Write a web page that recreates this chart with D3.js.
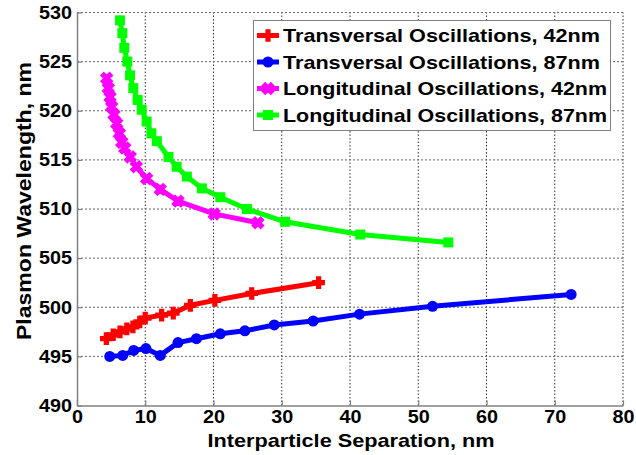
<!DOCTYPE html>
<html>
<head>
<meta charset="utf-8">
<script src="https://cdn.jsdelivr.net/npm/d3@7"></script>
<style>
  body { margin: 0; background: #fff; }
  svg { display: block; font-family: "Liberation Sans", Arial, sans-serif; font-weight: bold; }
</style>
</head>
<body>
<div id="chart"></div>
<script>
// values
const trans42X = [4.3, 5.3, 6.3, 7.3, 8.2, 9.2, 10.0, 12.4, 14.1, 16.6, 20.2, 25.6, 35.4];
const trans42Y = [496.8, 497.2, 497.5, 497.8, 498.0, 498.5, 498.9, 499.2, 499.4, 500.2, 500.7, 501.4, 502.5];

const trans87X = [4.8, 6.7, 8.3, 10.1, 12.2, 14.8, 17.5, 21.0, 24.6, 28.9, 34.6, 41.4, 52.1, 72.4];
const trans87Y = [495.0, 495.1, 495.6, 495.8, 495.1, 496.4, 496.8, 497.3, 497.6, 498.2, 498.6, 499.3, 500.1, 501.3];

const long42X = [4.35, 4.59, 4.84, 5.08, 5.42, 5.82, 6.2, 6.55, 7.0, 7.8, 8.7, 10.2, 12.2, 14.8, 20.1, 26.5];
const long42Y = [523.3, 522.3, 521.4, 520.4, 519.6, 518.7, 517.7, 516.8, 516.2, 515.3, 514.3, 513.1, 512.0, 510.8, 509.5, 508.6];

const long87X = [6.3, 6.64, 6.93, 7.37, 7.77, 8.25, 8.89, 9.48, 10.2, 10.9, 11.7, 13.4, 14.6, 16.1, 18.3, 21.0, 24.9, 30.5, 41.5, 54.4];
const long87Y = [529.2, 527.9, 526.4, 525.0, 523.6, 522.3, 521.1, 520.1, 518.9, 517.7, 516.9, 515.3, 514.3, 513.3, 512.1, 511.2, 510.0, 508.7, 507.4, 506.6];

const seriesNames = ["Transversal Oscillations, 42nm", "Transversal Oscillations, 87nm",
                     "Longitudinal Oscillations, 42nm", "Longitudinal Oscillations, 87nm"];
const seriesColors = ["#ff0000", "#0000ff", "#ff00ff", "#00ff00"];
const xTicks = [0, 10, 20, 30, 40, 50, 60, 70, 80];
const yTicks = [490, 495, 500, 505, 510, 515, 520, 525, 530];

const series = [
  { name: seriesNames[0], color: seriesColors[0], marker: "plus", pts: trans42X.map((x, i) => [x, trans42Y[i]]) },
  { name: seriesNames[1], color: seriesColors[1], marker: "circle", pts: trans87X.map((x, i) => [x, trans87Y[i]]) },
  { name: seriesNames[2], color: seriesColors[2], marker: "x", pts: long42X.map((x, i) => [x, long42Y[i]]) },
  { name: seriesNames[3], color: seriesColors[3], marker: "square", pts: long87X.map((x, i) => [x, long87Y[i]]) }
];

const W = 636, H = 455;
const margin = { top: 12.5, right: 13, bottom: 49.5, left: 77 };

const svg = d3.select("#chart").append("svg")
  .attr("width", W)
  .attr("height", H);

const x = d3.scaleLinear().domain([0, 80]).range([margin.left, W - margin.right]);
const y = d3.scaleLinear().domain([490, 530]).range([H - margin.bottom, margin.top]);

// grid
const grid = svg.append("g");
grid.selectAll(".vg")
  .data(xTicks.slice(1))
  .enter().append("line")
  .attr("x1", d => x(d)).attr("x2", d => x(d))
  .attr("y1", y(490)).attr("y2", y(530))
  .attr("stroke", "#333")
  .attr("stroke-width", 1)
  .attr("stroke-dasharray", "1.5,2");
grid.selectAll(".hg")
  .data(yTicks.slice(1))
  .enter().append("line")
  .attr("x1", x(0)).attr("x2", x(80))
  .attr("y1", d => y(d)).attr("y2", d => y(d))
  .attr("stroke", "#666")
  .attr("stroke-width", 1)
  .attr("stroke-dasharray", "2,2");

// axes
const xAxis = svg.append("g")
  .attr("transform", `translate(0,${y(490)})`)
  .call(d3.axisBottom(x).tickValues(xTicks).tickSizeInner(-5).tickSizeOuter(0).tickPadding(5));
const yAxis = svg.append("g")
  .attr("transform", `translate(${x(0)},0)`)
  .call(d3.axisLeft(y).tickValues(yTicks).tickSizeInner(-5).tickSizeOuter(0).tickPadding(5));

[xAxis, yAxis].forEach(a => {
  a.select(".domain").attr("stroke", "#808080").attr("stroke-width", 1.5);
  a.selectAll(".tick line").attr("stroke", "#808080").attr("stroke-width", 1.2);
  a.selectAll("text")
    .attr("fill", "#000")
    .style("font-size", "18px")
    .style("font-weight", "bold")
    .attr("lengthAdjust", "spacingAndGlyphs")
    .attr("textLength", d => String(d).length * 11);
});
xAxis.selectAll("text").attr("dy", "0.72em");

// axis titles
svg.append("text")
  .attr("x", 351).attr("y", 447)
  .attr("text-anchor", "middle")
  .style("font-size", "19px")
  .attr("textLength", 287)
  .attr("lengthAdjust", "spacingAndGlyphs")
  .text("Interparticle Separation, nm");

svg.append("text")
  .attr("transform", "translate(31,201) rotate(-90)")
  .attr("text-anchor", "middle")
  .style("font-size", "21px")
  .attr("textLength", 278)
  .attr("lengthAdjust", "spacingAndGlyphs")
  .text("Plasmon Wavelength, nm");

// markers
function drawMarker(sel, type, color) {
  if (type === "circle") {
    sel.append("circle").attr("r", 5.5).attr("fill", color);
  } else if (type === "square") {
    sel.append("rect").attr("x", -5).attr("y", -5).attr("width", 10).attr("height", 10).attr("fill", color);
  } else if (type === "plus") {
    sel.append("path").attr("d", d3.symbol(d3.symbolCross, 70)()).attr("fill", color)
      .attr("stroke", color).attr("stroke-width", 1.5);
  } else {
    sel.append("path").attr("d", d3.symbol(d3.symbolCross, 80)()).attr("fill", color)
      .attr("stroke", color).attr("stroke-width", 1.5).attr("transform", "rotate(45)");
  }
}

const line = d3.line().x(d => x(d[0])).y(d => y(d[1]));

series.forEach(s => {
  const g = svg.append("g");
  g.append("path")
    .attr("d", line(s.pts))
    .attr("fill", "none")
    .attr("stroke", s.color)
    .attr("stroke-width", 5)
    .attr("stroke-linejoin", "round");
  g.selectAll(".m")
    .data(s.pts)
    .enter().append("g")
    .attr("transform", d => `translate(${x(d[0])},${y(d[1])})`)
    .each(function() { drawMarker(d3.select(this), s.marker, s.color); });
});

// legend
const legend = svg.append("g");
legend.append("rect")
  .attr("x", 253.5).attr("y", 20.5)
  .attr("width", 357).attr("height", 110)
  .attr("fill", "#fff")
  .attr("stroke", "#808080")
  .attr("stroke-width", 1);

const legendY = [35.5, 62, 88.5, 115];
series.forEach((s, i) => {
  const row = legend.append("g").attr("transform", `translate(0,${legendY[i]})`);
  row.append("line")
    .attr("x1", 257).attr("x2", 279)
    .attr("stroke", s.color).attr("stroke-width", 5);
  const m = row.append("g").attr("transform", "translate(268,0)");
  drawMarker(m, s.marker, s.color);
  row.append("text")
    .attr("x", 283).attr("y", 0)
    .attr("dy", "0.36em")
    .style("font-size", "19px")
    .attr("textLength", i < 2 ? 317 : 324)
    .attr("lengthAdjust", "spacingAndGlyphs")
    .text(s.name);
});
</script>
</body>
</html>
